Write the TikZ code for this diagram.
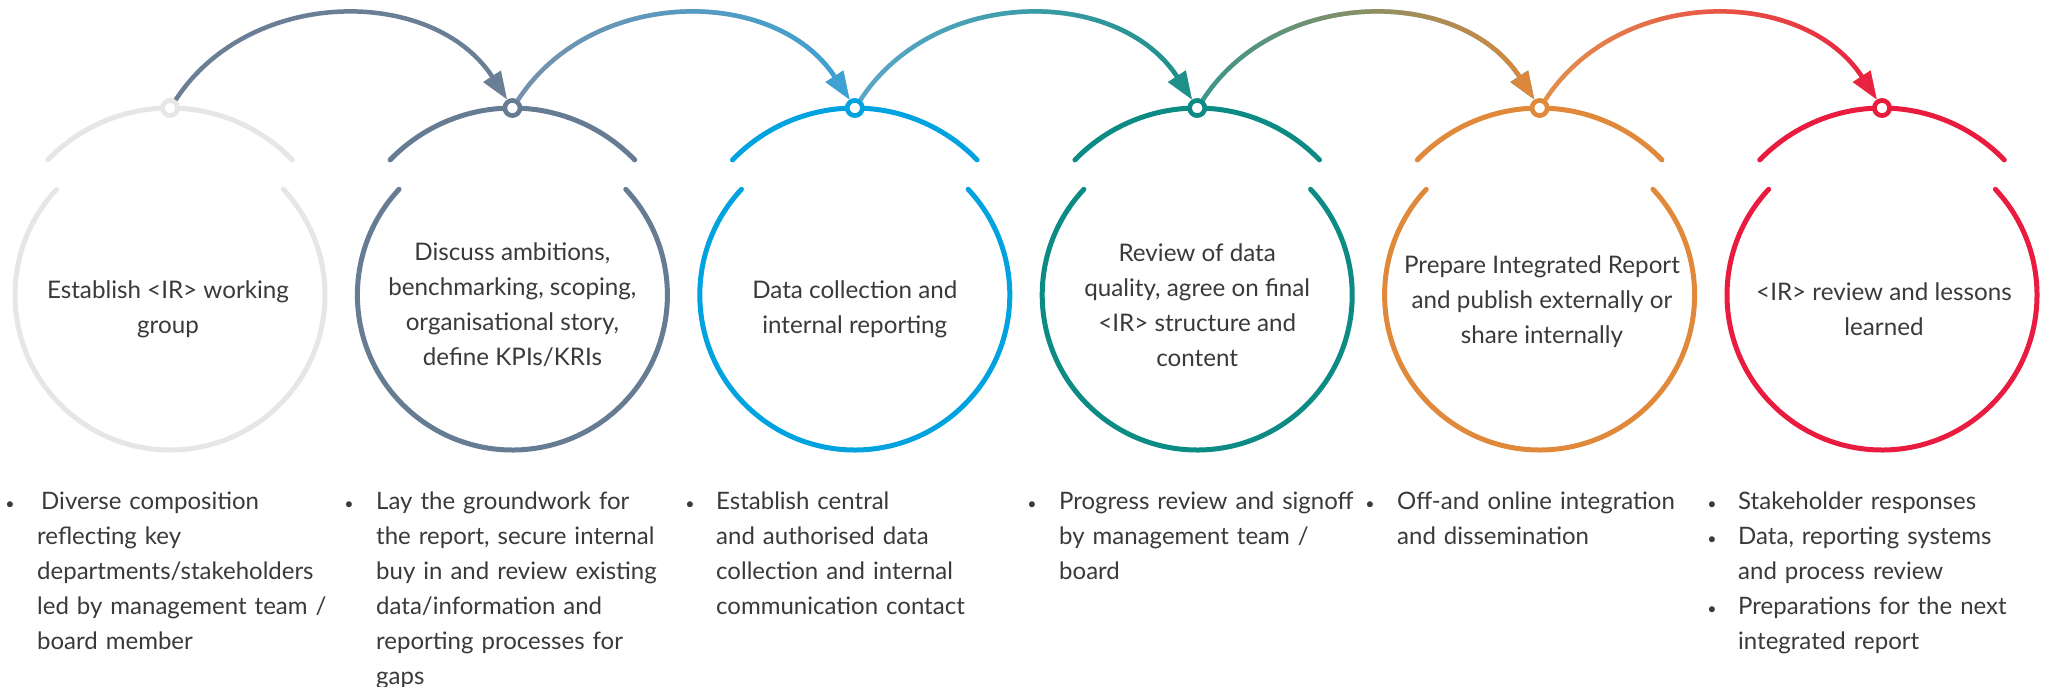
\documentclass[tikz,border=0pt]{standalone}
\usepackage{fontspec}
\setmainfont{Lato}
\usetikzlibrary{arrows.meta,fadings}
\definecolor{cA}{HTML}{E6E6E6}
\definecolor{cB}{HTML}{667C93}
\definecolor{cC}{HTML}{00A3E0}
\definecolor{cD}{HTML}{0B8B83}
\definecolor{cE}{HTML}{E0893A}
\definecolor{cF}{HTML}{E91B3E}
\definecolor{txt}{HTML}{3A3A3A}
\definecolor{aB}{HTML}{6A7F96}
\definecolor{aB2}{HTML}{7592AD}
\definecolor{aC}{HTML}{3CA3D5}
\definecolor{aC2}{HTML}{5BA8C8}
\definecolor{aD}{HTML}{1E9088}
\definecolor{aD2}{HTML}{3B968B}
\definecolor{aE}{HTML}{E0883A}
\definecolor{aE2}{HTML}{E3914C}
\definecolor{aF}{HTML}{EB2043}
\tikzfading[name=fadeLR, left color=transparent!100, right color=transparent!0]
\begin{document}
\begin{tikzpicture}[x=1pt,y=1pt,
  ringnode/.style={circle, draw=#1, fill=white, line width=4.5pt, minimum size=15pt, inner sep=0pt},
  loopline/.style={line width=5pt, line cap=round, draw=#1},
  flow/.style={line width=4.5pt, -{Triangle[length=28pt,width=20pt]}},
  circtext/.style={align=center, text=txt, font=\fontsize{24.2}{35}\selectfont, inner sep=0pt},
  btext/.style={text width=335pt, align=left, text=txt, font=\fontsize{24}{35}\selectfont, inner sep=0pt, anchor=base west},
  bdot/.style={text=txt, font=\fontsize{16}{20}\selectfont, inner sep=0pt, anchor=base}]
\useasboundingbox (0,0) rectangle (2049,-686);
\fill[white] (0,0) rectangle (2049,-686);
% process loops: a cap arc (radius 170) and an open lower ring (radius 155)
\foreach \i/\x/\col in {1/170/cA, 2/512.4/cB, 3/854.8/cC, 4/1197.2/cD, 5/1539.6/cE, 6/1882/cF}{
  \coordinate (u\i) at (\x,-278);
  \coordinate (o\i) at (\x,-295);
  \draw[loopline=\col] (u\i) ++(44:170) arc[start angle=44, end angle=136, radius=170];
  \draw[loopline=\col] (o\i) ++(137:155) arc[start angle=137, end angle=403, radius=155];
  \node[ringnode=\col] (r\i) at (\x,-108) {};
}
% connectors
\draw[flow, aB] (r1.55) to[out=57,in=123,looseness=1.05] (r2.122);
\draw[flow, aB2] (r2.55) to[out=57,in=123,looseness=1.05] (r3.122);
\draw[flow, aC, path fading=fadeLR] (r2.55) to[out=57,in=123,looseness=1.05] (r3.122);
\draw[flow, aC2] (r3.55) to[out=57,in=123,looseness=1.05] (r4.122);
\draw[flow, aD, path fading=fadeLR] (r3.55) to[out=57,in=123,looseness=1.05] (r4.122);
\draw[flow, aD2] (r4.55) to[out=57,in=123,looseness=1.05] (r5.122);
\draw[flow, aE, path fading=fadeLR] (r4.55) to[out=57,in=123,looseness=1.05] (r5.122);
\draw[flow, aE2] (r5.55) to[out=57,in=123,looseness=1.05] (r6.122);
\draw[flow, aF, path fading=fadeLR] (r5.55) to[out=57,in=123,looseness=1.05] (r6.122);
% redraw rings on top
\foreach \i/\col in {1/cA,2/cB,3/cC,4/cD,5/cE,6/cF}{
  \node[ringnode=\col] at (r\i) {};
}
% circle texts
\node[circtext] (t1) at (168,-309) {Establish <IR> working\\group};
\node[circtext] (t2) at (512.4,-305) {Discuss ambitions,\\benchmarking, scoping,\\organisational story,\\define KPIs/KRIs};
\node[circtext] (t3) at (854.8,-309) {Data collection and\\internal reporting};
\node[circtext] (t4) at (1197.2,-305) {Review of data\\quality, agree on final\\<IR> structure and\\content};
\node[circtext] (t5) at (1542,-302) {Prepare Integrated Report\\and publish externally or\\share internally};
\node[circtext] (t6) at (1884,-309) {<IR> review and lessons\\learned};
% bullet lists
\node[bdot] (d1) at (10,-509) {•};
\node[btext] (b1) at (37,-509) {\hspace{4pt}Diverse composition\\reflecting key\\departments/stakeholders\\led by management team /\\board member};
\node[bdot] (d2) at (349,-509) {•};
\node[btext] (b2) at (376,-509) {Lay the groundwork for\\the report, secure internal\\buy in and review existing\\data/information and\\reporting processes for\\gaps};
\node[bdot] (d3) at (690,-509) {•};
\node[btext] (b3) at (716,-509) {Establish central\\and authorised data\\collection and internal\\communication contact};
\node[bdot] (d4) at (1032,-509) {•};
\node[btext] (b4) at (1059,-509) {Progress review and signoff\\by management team /\\board};
\node[bdot] (d5) at (1370,-509) {•};
\node[btext] (b5) at (1397,-509) {Off-and online integration\\and dissemination};
\node[bdot] (d6) at (1712,-509) {•};
\node[bdot] (d7) at (1712,-544) {•};
\node[bdot] (d8) at (1712,-614) {•};
\node[btext] (b6) at (1738,-509) {Stakeholder responses\\Data, reporting systems\\and process review\\Preparations for the next\\integrated report};
\end{tikzpicture}
\end{document}
